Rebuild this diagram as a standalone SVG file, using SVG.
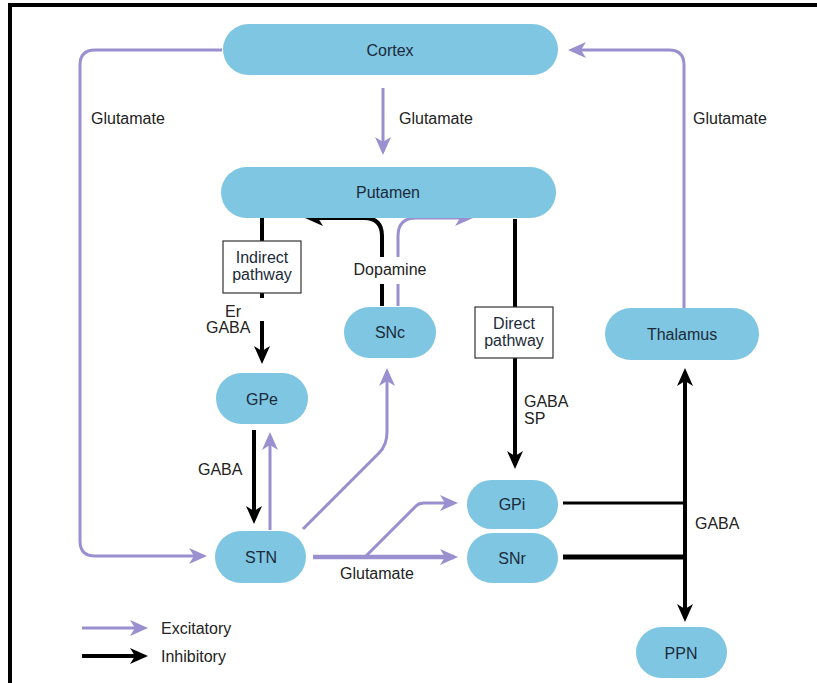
<svg xmlns="http://www.w3.org/2000/svg" width="817" height="683" viewBox="0 0 817 683">
<style>
.node{fill:#7ec6e2;}
.nl{font-family:"Liberation Sans",Arial,sans-serif;font-size:16px;fill:#1c2a3a;text-anchor:middle;dominant-baseline:central;}
.lb{font-family:"Liberation Sans",Arial,sans-serif;font-size:16px;fill:#222;}
.box{fill:#fff;stroke:#333;stroke-width:1.2;}
.ex{fill:none;stroke:#9a8fcf;stroke-width:3;}
.exb{fill:none;stroke:#9a8fcf;stroke-width:4.5;}
.in{fill:none;stroke:#000;stroke-width:4;}
</style>
<defs>
<marker id="ae" viewBox="0 0 18 18" refX="14" refY="9" markerWidth="18" markerHeight="18" markerUnits="userSpaceOnUse" orient="auto">
<path d="M0,1 L18,9 L0,17 L5,9 z" fill="#9a8fcf"/>
</marker>
<marker id="ai" viewBox="0 0 18 18" refX="14" refY="9" markerWidth="18" markerHeight="18" markerUnits="userSpaceOnUse" orient="auto-start-reverse">
<path d="M0,1 L18,9 L0,17 L5,9 z" fill="#000"/>
</marker>
</defs>
<rect width="817" height="683" fill="#fff"/>
<path d="M10,683 V5 H817" fill="none" stroke="#000" stroke-width="4"/>

<g id="connectors">
<path class="ex" d="M222,50 H95 Q80,50 80,65 V541 Q80,556 95,556 H203" marker-end="url(#ae)"/>
<path class="ex" d="M684,308 V65 Q684,50 669,50 H572" marker-end="url(#ae)"/>
<path class="ex" d="M383,88 V151" marker-end="url(#ae)"/>
<path class="ex" d="M398,306 V284"/>
<path class="ex" d="M398,257 V236 Q398,218 416,218 H469" marker-end="url(#ae)"/>
<path class="in" d="M382,306 V284"/>
<path class="in" d="M382,257 V236 Q382,218 364,218 H309" marker-end="url(#ai)"/>
<path class="in" d="M262,218 V241"/>
<path class="in" d="M262,293 V298"/>
<path class="in" d="M262,321 V360" marker-end="url(#ai)"/>
<path class="in" d="M515,219 V307"/>
<path class="in" d="M515,358 V465" marker-end="url(#ai)"/>
<path class="in" d="M254,430 V520" marker-end="url(#ai)"/>
<path class="ex" d="M270,530 V436" marker-end="url(#ae)"/>
<path class="ex" d="M303,529 L379,453 Q387,445 387,432 V372" marker-end="url(#ae)"/>
<path class="exb" d="M313,557 H454" marker-end="url(#ae)"/>
<path class="ex" d="M365,557 L416,506 Q419,503 424,503 H454" marker-end="url(#ae)"/>
<path fill="none" stroke="#000" stroke-width="3" d="M563,503 H685"/>
<path fill="none" stroke="#000" stroke-width="5" d="M563,557 H685"/>
<path class="in" d="M685,372 V618" marker-start="url(#ai)" marker-end="url(#ai)"/>
<path class="ex" d="M82,628 H144" marker-end="url(#ae)"/>
<path class="in" d="M82,656 H144" marker-end="url(#ai)"/>
</g>

<g id="labels">
<text class="lb" x="91" y="124">Glutamate</text>
<text class="lb" x="399" y="124">Glutamate</text>
<text class="lb" x="693" y="124">Glutamate</text>
<text class="lb" x="390" y="275" text-anchor="middle">Dopamine</text>
<text class="lb" x="225" y="317">Er</text>
<text class="lb" x="206" y="333">GABA</text>
<text class="lb" x="524" y="407">GABA</text>
<text class="lb" x="524" y="424">SP</text>
<text class="lb" x="198" y="475">GABA</text>
<text class="lb" x="340" y="579">Glutamate</text>
<text class="lb" x="695" y="529">GABA</text>
<text class="lb" x="161" y="634">Excitatory</text>
<text class="lb" x="161" y="662">Inhibitory</text>
</g>

<g id="indirect-box">
<rect class="box" x="223" y="241" width="78" height="52"/>
<text class="nl" x="262" y="257">Indirect</text>
<text class="nl" x="262" y="274">pathway</text>
</g>
<g id="direct-box">
<rect class="box" x="475" y="307" width="78" height="51"/>
<text class="nl" x="514" y="323">Direct</text>
<text class="nl" x="514" y="340">pathway</text>
</g>

<g id="cortex"><rect class="node" x="223" y="24" width="335" height="51" rx="25.5"/><text class="nl" x="390" y="50">Cortex</text></g>
<g id="putamen"><rect class="node" x="221" y="167" width="335" height="51" rx="25.5"/><text class="nl" x="388" y="192">Putamen</text></g>
<g id="snc"><rect class="node" x="344" y="307" width="92" height="51" rx="25.5"/><text class="nl" x="390" y="332">SNc</text></g>
<g id="gpe"><rect class="node" x="216" y="373" width="92" height="51" rx="25.5"/><text class="nl" x="262" y="399">GPe</text></g>
<g id="stn"><rect class="node" x="215" y="531" width="91" height="52" rx="26"/><text class="nl" x="261" y="557">STN</text></g>
<g id="gpi"><rect class="node" x="467" y="480" width="91" height="49" rx="24.5"/><text class="nl" x="512" y="504">GPi</text></g>
<g id="snr"><rect class="node" x="467" y="533" width="91" height="50" rx="25"/><text class="nl" x="512" y="558">SNr</text></g>
<g id="thalamus"><rect class="node" x="605" y="308" width="154" height="52" rx="26"/><text class="nl" x="682" y="334">Thalamus</text></g>
<g id="ppn"><rect class="node" x="636" y="627" width="91" height="51" rx="25.5"/><text class="nl" x="681" y="653">PPN</text></g>
</svg>
